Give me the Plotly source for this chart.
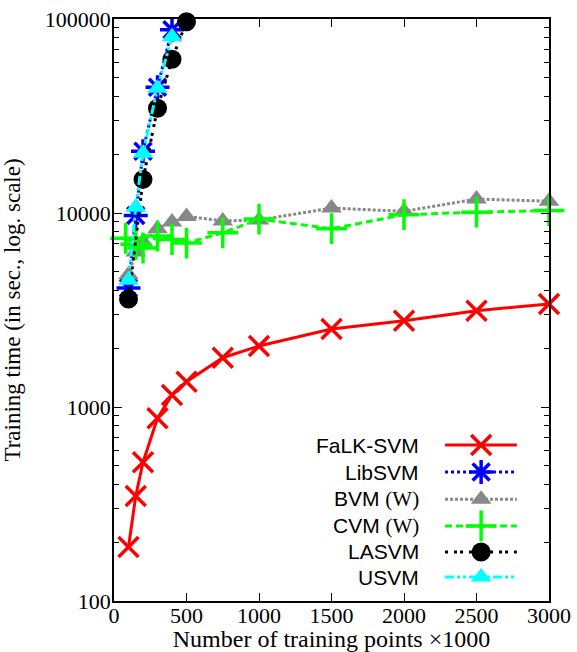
import plotly.graph_objects as go

# ---- data ----
x_falk = [100, 150, 200, 300, 400, 500, 750, 1000, 1500, 2000, 2500, 3000]
y_falk = [190, 348, 519, 875, 1153, 1350, 1795, 2062, 2523, 2785, 3135, 3396]

x_lib = [100, 150, 200, 300, 400]
y_lib = [4100, 9700, 20800, 44500, 88000]

x_bvm = [100, 150, 200, 300, 400, 500, 750, 1000, 1500, 2000, 2500, 3000]
y_bvm = [4800, 6300, 7100, 8300, 9000, 9600, 9100, 9200, 10600, 10200, 11800, 11500]

x_cvm = [80, 150, 200, 300, 400, 500, 750, 1000, 1500, 2000, 2500, 3000]
y_cvm = [7400, 6900, 6600, 7600, 7300, 7000, 7900, 9300, 8300, 9800, 10100, 10300]

x_la = [100, 200, 300, 400, 500]
y_la = [3600, 14900, 34700, 62000, 96800]

x_us = [100, 150, 200, 300, 400]
y_us = [4500, 10700, 20300, 44000, 81000]

x_ticks = [0, 500, 1000, 1500, 2000, 2500, 3000]
y_ticks = [100, 1000, 10000, 100000]
y_ticktext = ["100", "1000", "10000", "100000"]

names = ["FaLK-SVM", "LibSVM", "BVM <span style='font-family:Liberation Serif'>(W)</span>",
         "CVM <span style='font-family:Liberation Serif'>(W)</span>", "LASVM", "USVM"]

styles = [
    dict(color="#ff0000", dash="solid", symbol="x-thin", size=20, lw=3.5),
    dict(color="#0000ff", dash="3px,3px", symbol="asterisk", size=20, lw=3.5),
    dict(color="#888888", dash="3px,2px", symbol="triangle-up", size=18, lw=0),
    dict(color="#00ff00", dash="7px,4px", symbol="cross-thin", size=22, lw=3.5),
    dict(color="#000000", dash="3px,6px,3px,3px", symbol="circle", size=19, lw=0),
    dict(color="#00ffff", dash="9px,3px,3px,3px,3px,3px", symbol="triangle-up", size=18, lw=0),
]

series = [(x_falk, y_falk), (x_lib, y_lib), (x_bvm, y_bvm), (x_cvm, y_cvm), (x_la, y_la), (x_us, y_us)]

fig = go.Figure()

for (xs, ys), st in zip(series, styles):
    mk = dict(symbol=st["symbol"], size=st["size"], color=st["color"])
    if st["lw"]:
        mk["line"] = dict(color=st["color"], width=st["lw"])
    fig.add_trace(go.Scatter(
        x=xs, y=ys, mode="lines+markers",
        line=dict(color=st["color"], width=3, dash=st["dash"]),
        marker=mk, cliponaxis=False, showlegend=False,
    ))

# ---- custom legend (text left, sample right), drawn on an overlay axis ----
leg_y = [0.268, 0.2216, 0.175, 0.129, 0.0842, 0.0412]
leg_x0, leg_xm, leg_x1 = 0.761, 0.844, 0.926
for name, st, ly in zip(names, styles, leg_y):
    fig.add_trace(go.Scatter(
        x=[leg_x0, leg_x1], y=[ly, ly], mode="lines", xaxis="x2", yaxis="y2",
        line=dict(color=st["color"], width=3, dash=st["dash"]),
        showlegend=False, hoverinfo="skip", cliponaxis=False,
    ))
    mk = dict(symbol=st["symbol"], size=st["size"], color=st["color"])
    if st["lw"]:
        mk["line"] = dict(color=st["color"], width=st["lw"])
    fig.add_trace(go.Scatter(
        x=[leg_xm], y=[ly], mode="markers", xaxis="x2", yaxis="y2",
        marker=mk, showlegend=False, hoverinfo="skip", cliponaxis=False,
    ))
    fig.add_annotation(
        x=0.706, y=ly, xref="paper", yref="paper", xanchor="right", yanchor="middle",
        text=name, showarrow=False,
        font=dict(family="Liberation Sans", size=21, color="black"),
    )

serif = "Liberation Serif"
fig.update_layout(
    width=577, height=652,
    margin=dict(l=114, r=28, t=19, b=51),
    paper_bgcolor="white", plot_bgcolor="white",
    font=dict(family=serif, size=22, color="black"),
    xaxis=dict(
        range=[0, 3000], tickvals=x_ticks,
        ticks="inside", ticklen=8, tickwidth=1.2, tickcolor="black",
        showline=True, linecolor="black", linewidth=1.5, mirror="ticks",
        showgrid=False, zeroline=False, automargin=False,
        ticklabelstandoff=-6, ticklabeloverflow="allow",
        title=dict(text="Number of training points ×1000", standoff=4,
                   font=dict(family=serif, size=24)),
        tickfont=dict(family=serif, size=22),
    ),
    yaxis=dict(
        type="log", range=[2, 5], tickvals=y_ticks, ticktext=y_ticktext,
        ticks="inside", ticklen=8, tickwidth=1.2, tickcolor="black",
        showline=True, linecolor="black", linewidth=1.5, mirror="ticks",
        showgrid=False, zeroline=False, automargin=False,
        ticklabelstandoff=-3, ticklabeloverflow="allow",
        minor=dict(ticks="inside", ticklen=5, tickwidth=1.2, tickcolor="black", dtick="D1", showgrid=False),
        title=dict(text="Training time (in sec., log. scale)", standoff=22,
                   font=dict(family=serif, size=23)),
        tickfont=dict(family=serif, size=22),
    ),
    xaxis2=dict(overlaying="x", range=[0, 1], visible=False, anchor="y2"),
    yaxis2=dict(overlaying="y", range=[0, 1], visible=False, anchor="x2"),
)

fig.write_html("out.html", config={"displayModeBar": False},
               post_script="document.body.style.margin='0';")
